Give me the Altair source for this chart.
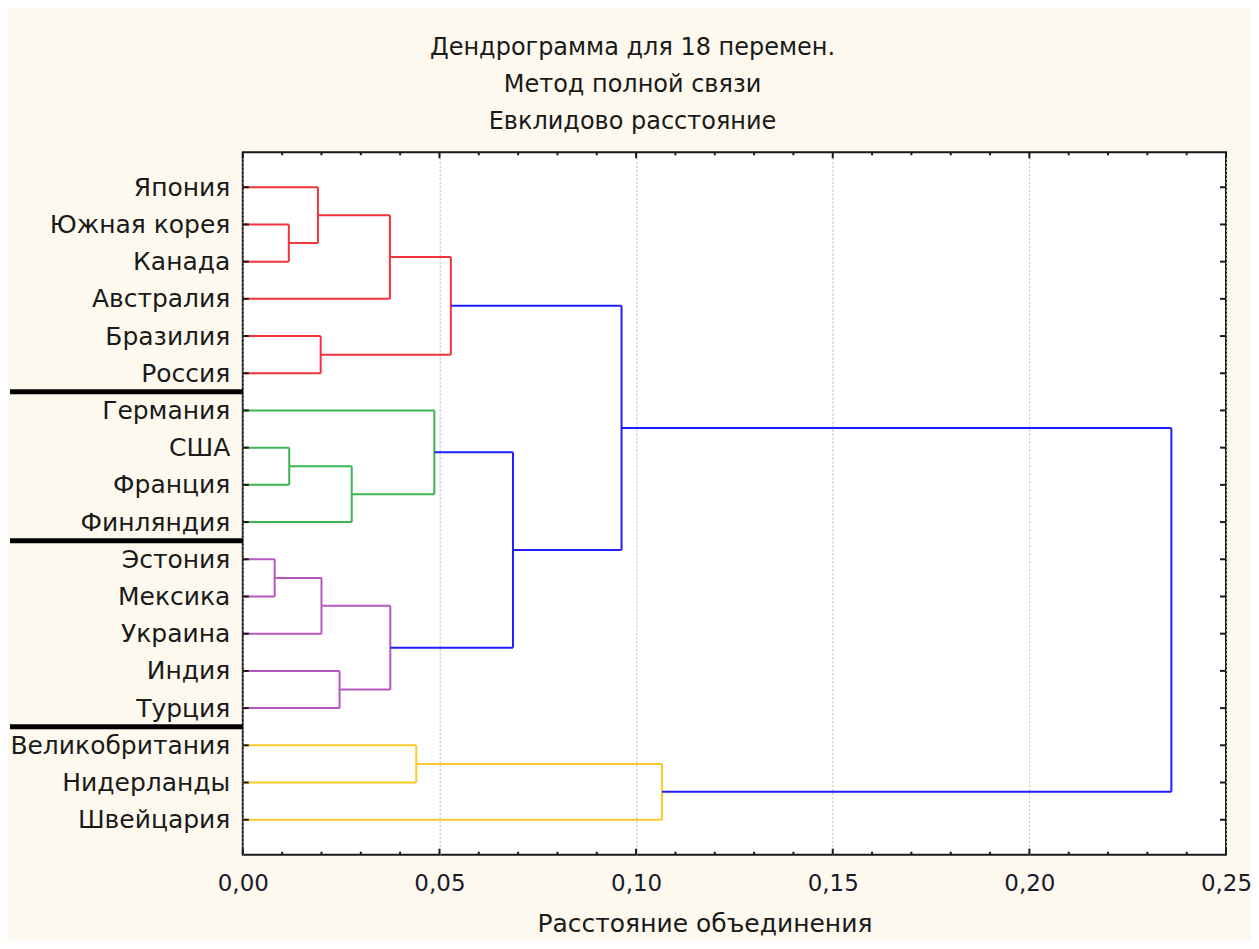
import json
import altair as alt
import pandas as pd

# ---------------- data ----------------
leaves = ["Япония", "Южная корея", "Канада", "Австралия", "Бразилия", "Россия",
          "Германия", "США", "Франция", "Финляндия",
          "Эстония", "Мексика", "Украина", "Индия", "Турция",
          "Великобритания", "Нидерланды", "Швейцария"]

# merges: node ids 0..17 are leaves, merge k gets id 18+k
merge_left = [1, 0, 19, 4, 20, 7, 23, 6, 10, 26, 13, 27, 25, 22, 15, 32, 31]
merge_right = [2, 18, 3, 5, 21, 8, 9, 24, 11, 12, 14, 28, 29, 30, 16, 17, 33]
merge_height = [0.0117, 0.0191, 0.0374, 0.0198, 0.0529,
                0.0118, 0.0277, 0.0487,
                0.0081, 0.0200, 0.0246, 0.0375,
                0.0687, 0.0963,
                0.0441, 0.1066,
                0.2361]
merge_color = ["red", "red", "red", "red", "red",
               "green", "green", "green",
               "purple", "purple", "purple", "purple",
               "blue", "blue",
               "yellow", "yellow",
               "blue"]

separators = [5.5, 9.5, 14.5]

x_major_ticks = [0.0, 0.05, 0.10, 0.15, 0.20, 0.25]
x_minor_ticks = [0.01, 0.02, 0.03, 0.04, 0.06, 0.07, 0.08, 0.09,
                 0.11, 0.12, 0.13, 0.14, 0.16, 0.17, 0.18, 0.19,
                 0.21, 0.22, 0.23, 0.24]

title_lines = ["Дендрограмма для 18  перемен.", "Метод полной связи", "Евклидово расстояние"]
x_title = "Расстояние объединения"

palette = {"red": "#F2323C", "green": "#3CB450", "purple": "#B457BE",
           "yellow": "#FFC828", "blue": "#1E1EFF"}

# ---------------- build segments ----------------
n = len(leaves)
node_y = {i: float(i) for i in range(n)}
node_h = {i: 0.0 for i in range(n)}
rows = []
for k, (a, b, h, c) in enumerate(zip(merge_left, merge_right, merge_height, merge_color)):
    col = palette[c]
    ya, yb = node_y[a], node_y[b]
    rows.append(dict(x=node_h[a], x2=h, y=ya, y2=ya, color=col))
    rows.append(dict(x=h, x2=h, y=ya, y2=yb, color=col))
    rows.append(dict(x=node_h[b], x2=h, y=yb, y2=yb, color=col))
    node_y[n + k] = (ya + yb) / 2
    node_h[n + k] = h
seg_df = pd.DataFrame(rows)

leaf_df = pd.DataFrame({"pos": list(range(n))})
sep_df = pd.DataFrame({"pos": separators})
major_df = pd.DataFrame({"v": x_major_ticks})
minor_df = pd.DataFrame({"v": x_minor_ticks})

W, H = 984, 703
FONT = "DejaVu Sans"

xscale = alt.Scale(domain=[0, 0.25], nice=False, zero=False)
yscale = alt.Scale(domain=[-0.94, n - 1 + 0.94], reverse=True, nice=False, zero=False)

label_expr = json.dumps(leaves, ensure_ascii=False) + "[datum.value]"

xaxis = alt.Axis(values=x_major_ticks, grid=True, gridDash=[2, 2], gridColor="#b4b4b4",
                 gridWidth=1, domain=False, ticks=False, tickSize=0,
                 labelExpr="replace(format(datum.value, '.2f'), '.', ',')",
                 labelFont=FONT, labelFontSize=23, labelColor="#1a1a2a", labelPadding=18,
                 labelFlush=False, labelOverlap=False,
                 title=x_title, titleFont=FONT, titleFontSize=25, titleFontWeight="normal",
                 titleColor="#1a1a1a", titleX=462, titleY=57, titleAlign="center",
                 titleBaseline="top")
yaxis = alt.Axis(values=list(range(n)), grid=False, domain=False, ticks=False, tickSize=0,
                 labelExpr=label_expr, labelFont=FONT, labelFontSize=25, labelLimit=400,
                 labelColor="#1a1a1a", labelPadding=13, labelOverlap=False, title=None)

lines = alt.Chart(seg_df).mark_rule(strokeWidth=2).encode(
    x=alt.X("x:Q", scale=xscale, axis=xaxis),
    x2="x2:Q",
    y=alt.Y("y:Q", scale=yscale, axis=yaxis),
    y2="y2:Q",
    color=alt.Color("color:N", scale=None),
)

tk = dict(color="#1a1a1a", strokeWidth=2)
left_ticks = alt.Chart(leaf_df).mark_rule(**tk).encode(
    y=alt.Y("pos:Q", scale=yscale, axis=yaxis), x=alt.value(0), x2=alt.value(6))
right_ticks = alt.Chart(leaf_df).mark_rule(**tk).encode(
    y=alt.Y("pos:Q", scale=yscale, axis=yaxis), x=alt.value(W - 6), x2=alt.value(W))
bottom_major = alt.Chart(major_df).mark_rule(**tk).encode(
    x=alt.X("v:Q", scale=xscale, axis=xaxis), y=alt.value(H - 6), y2=alt.value(H))
top_major = alt.Chart(major_df).mark_rule(**tk).encode(
    x=alt.X("v:Q", scale=xscale, axis=xaxis), y=alt.value(0), y2=alt.value(6))
bottom_minor = alt.Chart(minor_df).mark_rule(**tk).encode(
    x=alt.X("v:Q", scale=xscale, axis=xaxis), y=alt.value(H - 3), y2=alt.value(H))
top_minor = alt.Chart(minor_df).mark_rule(**tk).encode(
    x=alt.X("v:Q", scale=xscale, axis=xaxis), y=alt.value(0), y2=alt.value(3))

seps = alt.Chart(sep_df).mark_rule(color="#000000", strokeWidth=5).encode(
    y=alt.Y("pos:Q", scale=yscale, axis=yaxis), x=alt.value(-233), x2=alt.value(0))

chart = alt.layer(
    lines, left_ticks, right_ticks, bottom_major, top_major, bottom_minor, top_minor, seps
).properties(
    width=W, height=H,
    autosize=alt.AutoSizeParams(type="none"),
    padding={"left": 235, "top": 144, "right": 25, "bottom": 85},
    background="#FDF9EE",
    title=alt.Title(text=title_lines, font=FONT, fontSize=24, fontWeight="normal",
                    color="#1a1a1a", lineHeight=37, offset=17, dx=-102,
                    anchor="middle", frame="group"),
).configure_view(
    stroke="#1a1a1a", strokeWidth=2, fill="#FFFFFF"
)

chart.save("out.html", embed_options={"renderer": "svg", "actions": False})
